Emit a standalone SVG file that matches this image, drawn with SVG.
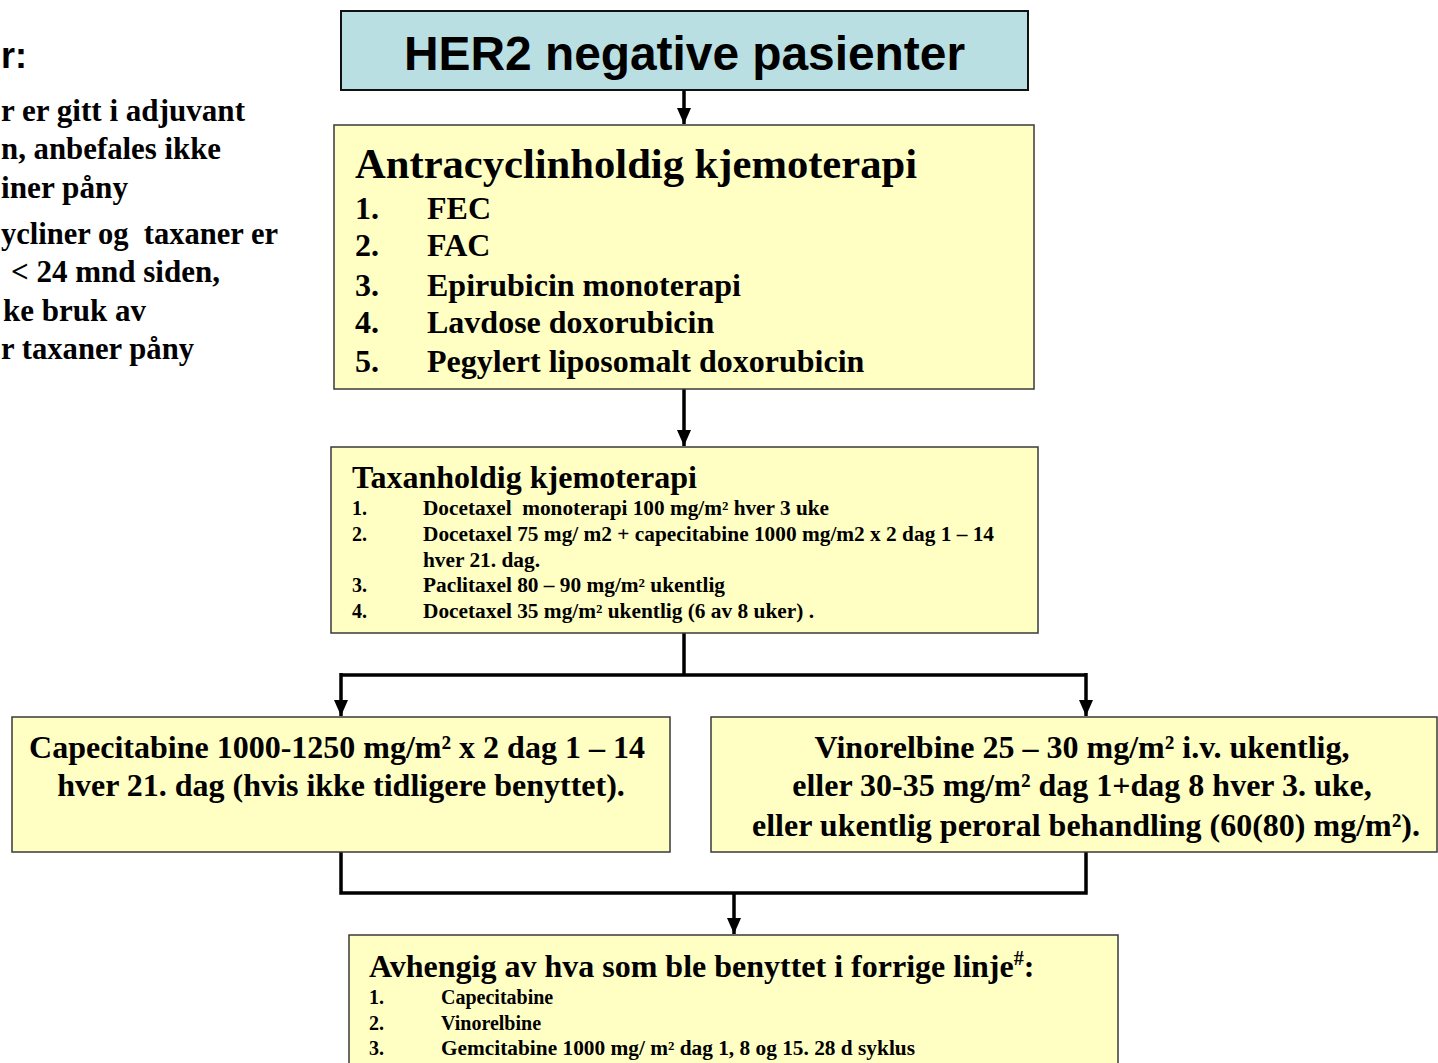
<svg xmlns="http://www.w3.org/2000/svg" width="1438" height="1063" viewBox="0 0 1438 1063">
<style>
.box{fill:#ffffc4;stroke:#3a3a3a;stroke-width:1.5}
.her{fill:#b9dfe3;stroke:#111;stroke-width:2}
.s{font-family:"Liberation Serif","Times New Roman",serif;font-weight:bold;fill:#000}
.a{font-family:"Liberation Sans",Arial,sans-serif;font-weight:bold;fill:#000}
.pre{white-space:pre}
.ln{fill:none;stroke:#000;stroke-width:3.5}
</style>
<defs>
<marker id="ah" markerUnits="userSpaceOnUse" markerWidth="16" markerHeight="14" refX="16" refY="7" orient="auto" viewBox="0 0 16 14">
<path d="M0,0 L16,7 L0,14 Z" fill="#000"/>
</marker>
</defs>
<rect width="1438" height="1063" fill="#fff"/>

<g id="sidenote">
<text class="a" x="1" y="68" font-size="36">r:</text>
<text class="s" x="1" y="121" font-size="31" textLength="244" lengthAdjust="spacingAndGlyphs">r er gitt i adjuvant</text>
<text class="s" x="1" y="159" font-size="31" textLength="220" lengthAdjust="spacingAndGlyphs">n, anbefales ikke</text>
<text class="s" x="1" y="198" font-size="31" textLength="127" lengthAdjust="spacingAndGlyphs">iner påny</text>
<text class="s pre" x="1" y="244" font-size="31" textLength="277" lengthAdjust="spacingAndGlyphs">ycliner og  taxaner er</text>
<text class="s" x="11" y="282" font-size="31" textLength="209" lengthAdjust="spacingAndGlyphs">&lt; 24 mnd siden,</text>
<text class="s" x="3" y="321" font-size="31" textLength="143" lengthAdjust="spacingAndGlyphs">ke bruk av</text>
<text class="s" x="1" y="359" font-size="31" textLength="193" lengthAdjust="spacingAndGlyphs">r taxaner påny</text>
</g>

<g id="connectors">
<line class="ln" x1="684" y1="90" x2="684" y2="124" marker-end="url(#ah)"/>
<line class="ln" x1="684" y1="389" x2="684" y2="446" marker-end="url(#ah)"/>
<path class="ln" d="M684,633 V675"/>
<path class="ln" d="M341,675 H1086"/>
<line class="ln" x1="341" y1="673" x2="341" y2="716" marker-end="url(#ah)"/>
<line class="ln" x1="1086" y1="673" x2="1086" y2="716" marker-end="url(#ah)"/>
<path class="ln" d="M341,852 V893 H1086 V852"/>
<line class="ln" x1="734" y1="893" x2="734" y2="934" marker-end="url(#ah)"/>
</g>

<g id="her2">
<rect class="her" x="341" y="11" width="687" height="79"/>
<text class="a" x="684.5" y="70" font-size="48" text-anchor="middle" textLength="561" lengthAdjust="spacingAndGlyphs">HER2 negative pasienter</text>
</g>

<g id="antracyclin">
<rect class="box" x="334" y="125" width="700" height="264"/>
<text class="s" x="355" y="178" font-size="42" textLength="562" lengthAdjust="spacingAndGlyphs">Antracyclinholdig kjemoterapi</text>
<text class="s" font-size="32">
<tspan x="355" y="219">1.</tspan><tspan x="427" y="219">FEC</tspan>
<tspan x="355" y="256">2.</tspan><tspan x="427" y="256">FAC</tspan>
<tspan x="355" y="296">3.</tspan><tspan x="427" y="296">Epirubicin monoterapi</tspan>
<tspan x="355" y="333">4.</tspan><tspan x="427" y="333">Lavdose doxorubicin</tspan>
<tspan x="355" y="372">5.</tspan><tspan x="427" y="372">Pegylert liposomalt doxorubicin</tspan>
</text>
</g>

<g id="taxan">
<rect class="box" x="331" y="447" width="707" height="186"/>
<text class="s" x="352" y="488" font-size="32" textLength="345" lengthAdjust="spacingAndGlyphs">Taxanholdig kjemoterapi</text>
<g class="s" font-size="20">
<text x="352" y="515">1.</text>
<text class="pre" x="423" y="515" textLength="406" lengthAdjust="spacingAndGlyphs">Docetaxel  monoterapi 100 mg/m² hver 3 uke</text>
<text x="352" y="541">2.</text>
<text x="423" y="541" textLength="571" lengthAdjust="spacingAndGlyphs">Docetaxel 75 mg/ m2 + capecitabine 1000 mg/m2 x 2 dag 1 – 14</text>
<text x="423" y="567" textLength="117" lengthAdjust="spacingAndGlyphs">hver 21. dag.</text>
<text x="352" y="592">3.</text>
<text x="423" y="592" textLength="302" lengthAdjust="spacingAndGlyphs">Paclitaxel 80 – 90 mg/m² ukentlig</text>
<text x="352" y="618">4.</text>
<text x="423" y="618" textLength="391" lengthAdjust="spacingAndGlyphs">Docetaxel 35 mg/m² ukentlig (6 av 8 uker) .</text>
</g>
</g>

<g id="capecitabine">
<rect class="box" x="12" y="717" width="658" height="135"/>
<text class="s" font-size="32" text-anchor="middle">
<tspan x="341" y="758">Capecitabine 1000-1250 mg/m² x 2 dag 1 – 14</tspan>
<tspan x="341" y="796">hver 21. dag (hvis ikke tidligere benyttet).</tspan>
</text>
</g>

<g id="vinorelbine">
<rect class="box" x="711" y="717" width="726" height="135"/>
<text class="s" font-size="32" text-anchor="middle">
<tspan x="1086" y="758">Vinorelbine 25 – 30 mg/m² i.v. ukentlig,</tspan>
<tspan x="1086" y="796">eller 30-35 mg/m² dag 1+dag 8 hver 3. uke,</tspan>
<tspan x="1086" y="836">eller ukentlig peroral behandling (60(80) mg/m²).</tspan>
</text>
</g>

<g id="forrige">
<rect class="box" x="349" y="935" width="769" height="140"/>
<text class="s" x="369" y="977" font-size="32">Avhengig av hva som ble benyttet i forrige linje<tspan font-size="20" dy="-12">#</tspan><tspan dy="12">:</tspan></text>
<g class="s" font-size="20">
<text x="369" y="1004">1.</text><text x="441" y="1004">Capecitabine</text>
<text x="369" y="1030">2.</text><text x="441" y="1030">Vinorelbine</text>
<text x="369" y="1055">3.</text><text x="441" y="1055" textLength="474" lengthAdjust="spacingAndGlyphs">Gemcitabine 1000 mg/ m² dag 1, 8 og 15. 28 d syklus</text>
</g>
</g>
</svg>
